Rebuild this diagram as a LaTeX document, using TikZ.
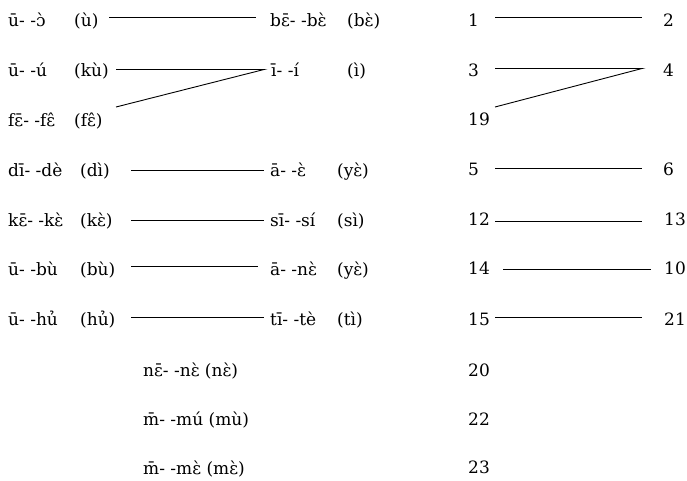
\documentclass[tikz,border=0pt]{standalone}
\usepackage{fontspec}
\setmainfont{DejaVu Serif}
\begin{document}
\begin{tikzpicture}[x=1pt,y=-1pt,
  lbl/.style={anchor=base west,inner sep=0pt,font=\fontsize{17}{20}\selectfont},
  conn/.style={draw=black,line width=0.9pt}]
\useasboundingbox (0,0) rectangle (687,480);
% left column
\node[lbl] (a1) at (8,26) {\makebox[66pt][l]{ū- -ɔ̀}(ù)};
\node[lbl] (a2) at (8,76) {\makebox[66pt][l]{ū- -ú}(kù)};
\node[lbl] (a3) at (8,126) {\makebox[66pt][l]{fɛ̄- -fɛ̂}(fɛ̂)};
\node[lbl] (a4) at (8,176) {\makebox[72pt][l]{dī- -dè}(dì)};
\node[lbl] (a5) at (8,226) {\makebox[72pt][l]{kɛ̄- -kɛ̀}(kɛ̀)};
\node[lbl] (a6) at (8,275) {\makebox[72pt][l]{ū- -bù}(bù)};
\node[lbl] (a7) at (8,325) {\makebox[72pt][l]{ū- -hủ}(hủ)};
% middle column
\node[lbl] (b1) at (270,26) {\makebox[77pt][l]{bɛ̄- -bɛ̀}(bɛ̀)};
\node[lbl] (b2) at (271,76) {\makebox[76pt][l]{ī- -í}(ì)};
\node[lbl] (b4) at (270,176) {\makebox[67pt][l]{ā- -ɛ̀}(yɛ̀)};
\node[lbl] (b5) at (270,226) {\makebox[67pt][l]{sī- -sí}(sì)};
\node[lbl] (b6) at (270,275) {\makebox[67pt][l]{ā- -nɛ̀}(yɛ̀)};
\node[lbl] (b7) at (270,325) {\makebox[67pt][l]{tī- -tè}(tì)};
\node[lbl] (c1) at (143,376) {nɛ̄- -nɛ̀ (nɛ̀)};
\node[lbl] (c2) at (143,425) {m̄- -mú (mù)};
\node[lbl] (c3) at (143,474) {m̄- -mɛ̀ (mɛ̀)};
% right numbers
\node[lbl] (n1) at (468,26) {1};
\node[lbl] (n2) at (663,26) {2};
\node[lbl] (n3) at (468,76) {3};
\node[lbl] (n4) at (663,76) {4};
\node[lbl] (n19) at (468,125) {19};
\node[lbl] (n5) at (468,175) {5};
\node[lbl] (n6) at (663,175) {6};
\node[lbl] (n12) at (468,225) {12};
\node[lbl] (n13) at (664,225) {13};
\node[lbl] (n14) at (468,274) {14};
\node[lbl] (n10) at (664,274) {10};
\node[lbl] (n15) at (468,325) {15};
\node[lbl] (n21) at (664,325) {21};
\node[lbl] (n20) at (468,376) {20};
\node[lbl] (n22) at (468,425) {22};
\node[lbl] (n23) at (468,473) {23};
% connector end points
\coordinate (p1s) at (109,17.5); \coordinate (p1e) at (256,17.5);
\coordinate (p2s) at (116,69.5); \coordinate (p2e) at (264,69.5);
\coordinate (p3s) at (116,107);
\coordinate (p4s) at (131,170.5); \coordinate (p4e) at (264,170.5);
\coordinate (p5s) at (131,220.5); \coordinate (p5e) at (264,220.5);
\coordinate (p6s) at (131,266.5); \coordinate (p6e) at (258,266.5);
\coordinate (p7s) at (131,317.5); \coordinate (p7e) at (264,317.5);
\coordinate (q1s) at (495,17.5); \coordinate (q1e) at (642,17.5);
\coordinate (q2s) at (495,68.5); \coordinate (q2e) at (642,68.5);
\coordinate (q3s) at (495,107);
\coordinate (q4s) at (495,168.5); \coordinate (q4e) at (642,168.5);
\coordinate (q5s) at (495,221.5); \coordinate (q5e) at (642,221.5);
\coordinate (q6s) at (503,269.5); \coordinate (q6e) at (651,269.5);
\coordinate (q7s) at (495,317.5); \coordinate (q7e) at (642,317.5);
\draw[conn] (p1s) -- (p1e);
\draw[conn] (p2s) -- (p2e) -- (p3s);
\draw[conn] (p4s) -- (p4e);
\draw[conn] (p5s) -- (p5e);
\draw[conn] (p6s) -- (p6e);
\draw[conn] (p7s) -- (p7e);
\draw[conn] (q1s) -- (q1e);
\draw[conn] (q2s) -- (q2e) -- (q3s);
\draw[conn] (q4s) -- (q4e);
\draw[conn] (q5s) -- (q5e);
\draw[conn] (q6s) -- (q6e);
\draw[conn] (q7s) -- (q7e);
\end{tikzpicture}
\end{document}
